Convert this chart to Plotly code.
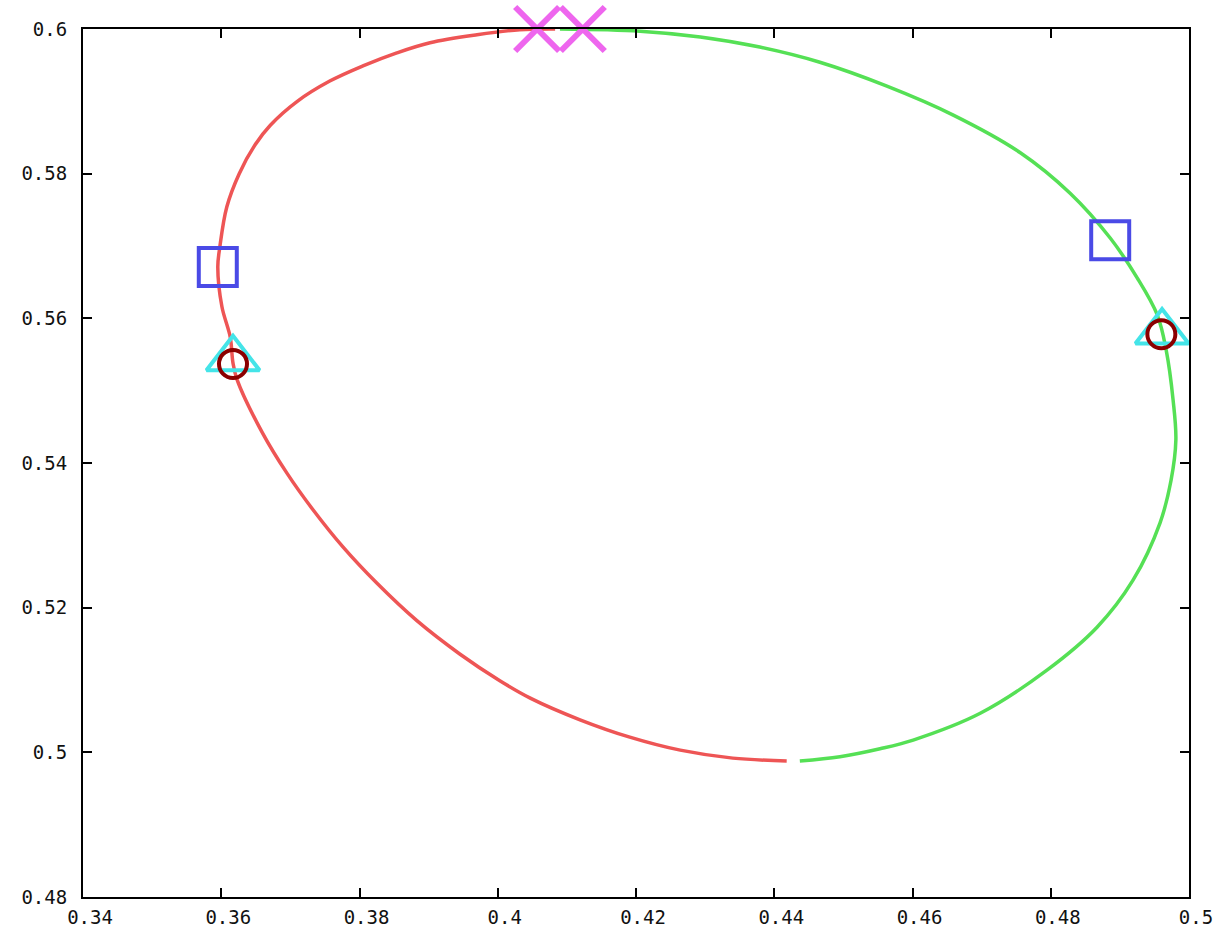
import plotly.graph_objects as go

# Red branch of the orbit
red_x = [0.4083, 0.4032, 0.3970, 0.3902, 0.3854, 0.3805, 0.3757, 0.3710, 0.3671, 0.3649,
         0.3626, 0.3608, 0.3598, 0.3595, 0.3601, 0.3613, 0.3617, 0.3623, 0.3660, 0.3695,
         0.3733, 0.3776, 0.3825, 0.3883, 0.3945, 0.4003, 0.4047, 0.4119, 0.4191, 0.4264,
         0.4340, 0.4418]
red_y = [0.6000, 0.5999, 0.5992, 0.5981, 0.5967, 0.5949, 0.5928, 0.5900, 0.5867, 0.5840,
         0.5800, 0.5754, 0.5699, 0.5671, 0.5616, 0.5574, 0.5538, 0.5515, 0.5441, 0.5386,
         0.5335, 0.5284, 0.5234, 0.5182, 0.5136, 0.5099, 0.5075, 0.5045, 0.5021, 0.5003,
         0.4992, 0.4988]

# Green branch of the orbit
green_x = [0.4090, 0.4206, 0.4293, 0.4379, 0.4466, 0.4563, 0.4659, 0.4756, 0.4828, 0.4886,
           0.4925, 0.4954, 0.4967, 0.4977, 0.4981, 0.4974, 0.4958, 0.4919, 0.4867, 0.4795,
           0.4698, 0.4601, 0.4553, 0.4495, 0.4437]
green_y = [0.6000, 0.5997, 0.5989, 0.5975, 0.5954, 0.5921, 0.5881, 0.5829, 0.5773, 0.5711,
           0.5656, 0.5605, 0.5556, 0.5487, 0.5432, 0.5376, 0.5317, 0.5238, 0.5173, 0.5114,
           0.5054, 0.5017, 0.5005, 0.4994, 0.4988]

square_x = [0.3595, 0.4886]
square_y = [0.5671, 0.5708]
triangle_x = [0.3617, 0.4961]
triangle_y = [0.5544, 0.5581]
circle_x = [0.3617, 0.4960]
circle_y = [0.5537, 0.5578]
cross_x = [0.4057, 0.4123]
cross_y = [0.6000, 0.6000]

x_ticks = [0.34, 0.36, 0.38, 0.40, 0.42, 0.44, 0.46, 0.48, 0.50]
x_labels = ["0.34", "0.36", "0.38", "0.4", "0.42", "0.44", "0.46", "0.48", "0.5"]
y_ticks = [0.48, 0.50, 0.52, 0.54, 0.56, 0.58, 0.60]
y_labels = ["0.48", "0.5", "0.52", "0.54", "0.56", "0.58", "0.6"]

fig = go.Figure()
fig.add_trace(go.Scatter(x=red_x, y=red_y, mode="lines",
                         line=dict(color="#ee5555", width=3.5, shape="spline"),
                         cliponaxis=False))
fig.add_trace(go.Scatter(x=green_x, y=green_y, mode="lines",
                         line=dict(color="#55e055", width=3.5, shape="spline"),
                         cliponaxis=False))
fig.add_trace(go.Scatter(x=square_x, y=square_y, mode="markers",
                         marker=dict(symbol="square-open", size=38, color="#4a4ae6",
                                     line=dict(color="#4a4ae6", width=4)),
                         cliponaxis=False))
fig.add_trace(go.Scatter(x=triangle_x, y=triangle_y, mode="markers",
                         marker=dict(symbol="triangle-up-open", size=46, color="#44e4e8",
                                     line=dict(color="#44e4e8", width=4)),
                         cliponaxis=False))
fig.add_trace(go.Scatter(x=circle_x, y=circle_y, mode="markers",
                         marker=dict(symbol="circle-open", size=28, color="#8b0000",
                                     line=dict(color="#8b0000", width=4)),
                         cliponaxis=False))
fig.add_trace(go.Scatter(x=cross_x, y=cross_y, mode="markers",
                         marker=dict(symbol="x-thin-open", size=44, color="#ee66ee",
                                     line=dict(color="#ee66ee", width=6)),
                         cliponaxis=False))

axis_common = dict(
    showgrid=False, zeroline=False, showline=True, linecolor="black", linewidth=2,
    mirror="ticks", ticks="inside", ticklen=9, tickwidth=1.5, tickcolor="black",
    tickfont=dict(family="DejaVu Sans Mono", size=19, color="#111111"),
    automargin=False,
)

fig.update_layout(
    width=1228, height=935,
    margin=dict(l=83, r=39, t=29, b=38),
    paper_bgcolor="white", plot_bgcolor="white",
    showlegend=False,
    xaxis=dict(range=[0.34, 0.50], tickmode="array", tickvals=x_ticks, ticktext=x_labels,
               ticklabelstandoff=2, ticklabelshift=7, **axis_common),
    yaxis=dict(range=[0.48, 0.60], tickmode="array", tickvals=y_ticks, ticktext=y_labels,
               ticklabelstandoff=10, **axis_common),
)

fig.write_html("out.html")
